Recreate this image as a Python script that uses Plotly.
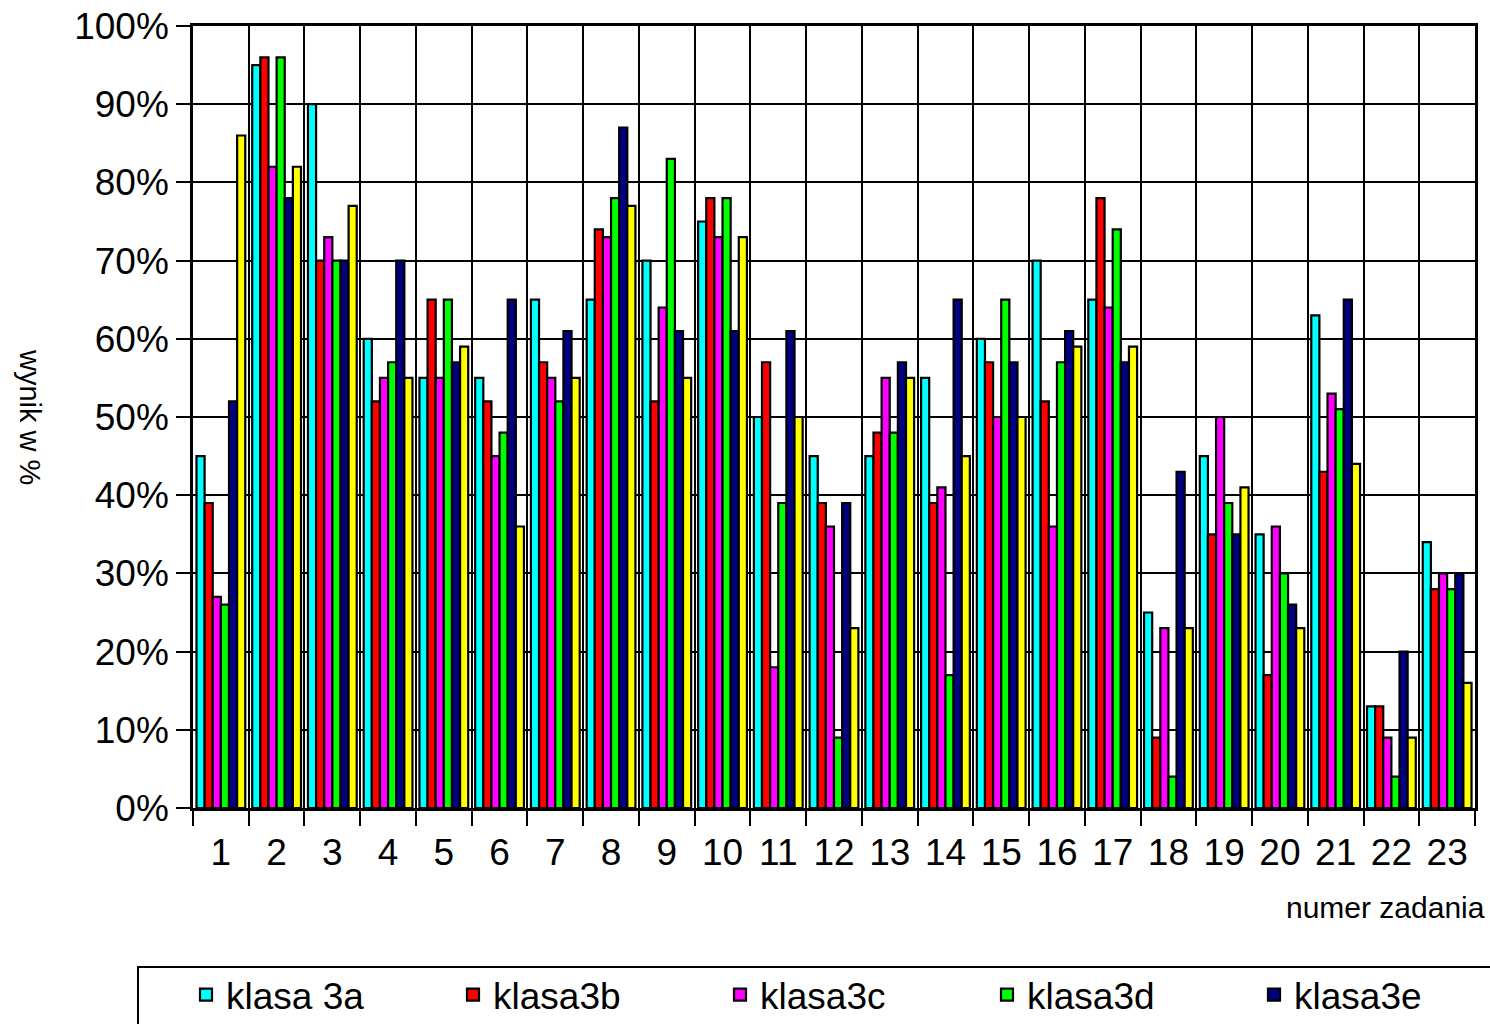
import plotly.graph_objects as go

categories = [str(i) for i in range(1, 24)]
series_names = ["klasa 3a", "klasa3b", "klasa3c", "klasa3d", "klasa3e", "klasa3f"]
klasa_3a = [45, 95, 90, 60, 55, 55, 65, 65, 70, 75, 50, 45, 45, 55, 60, 70, 65, 25, 45, 35, 63, 13, 34]
klasa_3b = [39, 96, 70, 52, 65, 52, 57, 74, 52, 78, 57, 39, 48, 39, 57, 52, 78, 9, 35, 17, 43, 13, 28]
klasa_3c = [27, 82, 73, 55, 55, 45, 55, 73, 64, 73, 18, 36, 55, 41, 50, 36, 64, 23, 50, 36, 53, 9, 30]
klasa_3d = [26, 96, 70, 57, 65, 48, 52, 78, 83, 78, 39, 9, 48, 17, 65, 57, 74, 4, 39, 30, 51, 4, 28]
klasa_3e = [52, 78, 70, 70, 57, 65, 61, 87, 61, 61, 61, 39, 57, 65, 57, 61, 57, 43, 35, 26, 65, 20, 30]
klasa_3f = [86, 82, 77, 55, 59, 36, 55, 77, 55, 73, 50, 23, 55, 45, 50, 59, 59, 23, 41, 23, 44, 9, 16]
series_values = [klasa_3a, klasa_3b, klasa_3c, klasa_3d, klasa_3e, klasa_3f]
legend_visible = [True, True, True, True, True, False]  # 6th entry lies beyond the frame in the reference
colors = ["#00FFFF", "#FF0000", "#FF00FF", "#00FF00", "#000080", "#FFFF00"]
y_ticks = list(range(0, 101, 10))
y_tick_labels = [f"{v}%" for v in y_ticks]

FONT = "Liberation Sans, Arial, sans-serif"
W, H = 1490, 1024
ML, MR, MT, MB = 193, 15, 26, 216
PW = W - ML - MR
PH = H - MT - MB

fig = go.Figure()
for name, vals, col, vis in zip(series_names, series_values, colors, legend_visible):
    fig.add_trace(go.Bar(
        x=categories, y=vals, name=name, showlegend=vis,
        marker=dict(color=col, line=dict(color="black", width=2.2)),
    ))

fig.update_layout(
    width=W, height=H,
    margin=dict(l=ML, r=MR, t=MT, b=MB, autoexpand=False),
    paper_bgcolor="white", plot_bgcolor="white",
    barmode="group", bargap=0.125, bargroupgap=0,
    font=dict(family=FONT, color="black", size=37),
    showlegend=True,
    legend=dict(
        orientation="h",
        x=(186 - ML) / PW, xanchor="left",
        y=(MT + PH - 964) / PH, yanchor="top",
        entrywidth=222, entrywidthmode="pixels",
        font=dict(family=FONT, size=37, color="black"),
        bgcolor="rgba(0,0,0,0)", borderwidth=0,
        traceorder="normal",
    ),
    xaxis=dict(
        type="category", tickson="boundaries",
        showgrid=True, gridcolor="black", gridwidth=2,
        showline=True, linecolor="black", linewidth=2.5, mirror=True,
        ticks="outside", ticklen=15, tickwidth=2, tickcolor="black",
        tickfont=dict(family=FONT, size=37, color="black"),
        ticklabelstandoff=10,
    ),
    yaxis=dict(
        range=[0, 100], tickmode="array", tickvals=y_ticks, ticktext=y_tick_labels,
        showgrid=True, gridcolor="black", gridwidth=2,
        showline=True, linecolor="black", linewidth=2.5, mirror=True,
        ticks="outside", ticklen=14, tickwidth=2, tickcolor="black",
        tickfont=dict(family=FONT, size=37, color="black"),
        ticklabelstandoff=0, zeroline=False,
    ),
)

# legend frame (decoration)
fig.add_shape(type="rect", xref="paper", yref="paper",
              x0=(138 - ML) / PW, x1=(1500 - ML) / PW,
              y0=(MT + PH - 967) / PH, y1=(MT + PH - 1040) / PH,
              line=dict(color="black", width=2), fillcolor="rgba(0,0,0,0)", layer="below")

fig.add_annotation(text="wynik w %", xref="paper", yref="paper",
                   x=(30 - ML) / PW, y=(MT + PH - 417) / PH,
                   xanchor="center", yanchor="middle",
                   textangle=90, showarrow=False,
                   font=dict(family=FONT, size=29, color="black"))
fig.add_annotation(text="numer zadania", xref="paper", yref="paper",
                   x=(1487 - ML) / PW, y=(MT + PH - 907) / PH,
                   xanchor="right", yanchor="middle", showarrow=False,
                   font=dict(family=FONT, size=30, color="black"))

fig.write_html("out.html", config={"displayModeBar": False},
               post_script="document.body.style.margin='0';document.body.style.overflow='hidden';")
